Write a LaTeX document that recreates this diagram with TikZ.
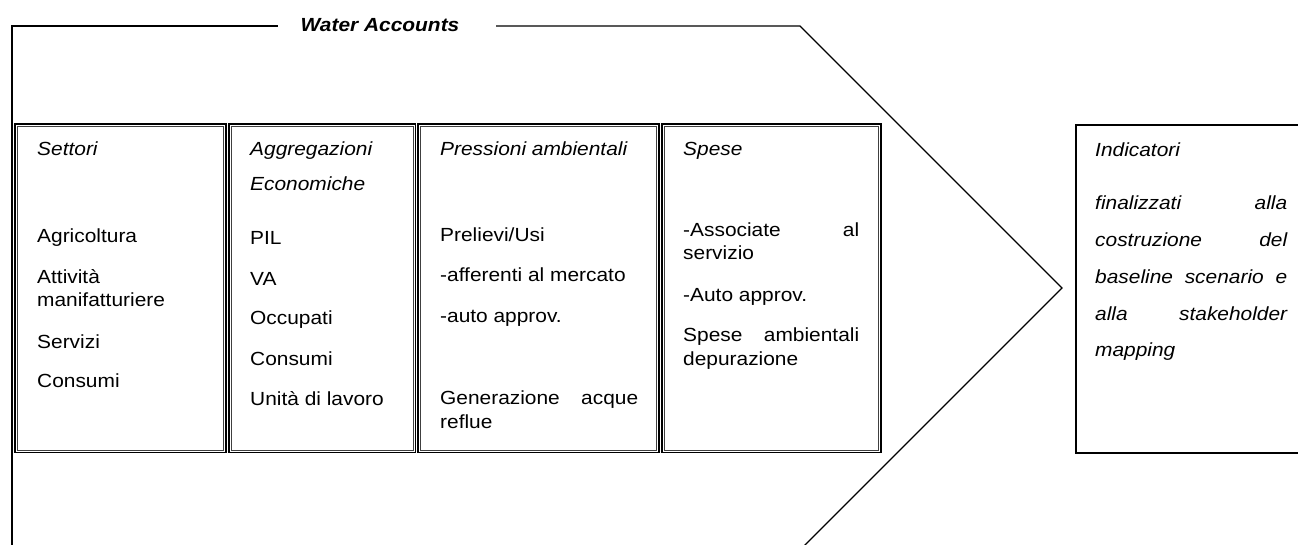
\documentclass[tikz,border=0pt]{standalone}
\usepackage{fontspec}
\setmainfont{Liberation Sans}[FakeStretch=1.1]
\begin{document}
\begin{tikzpicture}[x=1pt,y=-1pt,
  outline/.style={draw=black, line width=1.2pt},
  dout/.style={draw=black, line width=1.2pt},
  din/.style={draw=black!75, line width=0.8pt},
  ibox/.style={draw=black, line width=2pt},
  txt/.style={anchor=base west, inner sep=0pt, font=\fontsize{19}{23}\selectfont},
  itxt/.style={txt, font=\fontsize{19}{23}\selectfont\itshape},
  ttl/.style={anchor=base, inner sep=0pt, font=\fontsize{19}{23}\selectfont\bfseries\itshape}]
\useasboundingbox (0,0) rectangle (1298,544);
% outer chevron outline
\coordinate (ob) at (12,548);
\coordinate (otl) at (12,26);
\coordinate (ol1) at (278,26);
\coordinate (ol2) at (496,26);
\coordinate (otr) at (800,26);
\coordinate (otip) at (1062,288);
\coordinate (obr) at (802,548);
\draw[outline] (ob) -- (otl) -- (ol1);
\draw[outline] (ol2) -- (otr) -- (otip) -- (obr);
\node[ttl] (title) at (380,31) {Water Accounts};
% double-framed boxes
\foreach \l/\r in {15/226, 229/415.5, 418/659, 662/881}{
  \draw[dout] (\l,124) rectangle (\r,452.5);
  \draw[din] (\l+2.5,126.5) rectangle (\r-2.5,450);
}
\draw[ibox] (1075.5,124.5) rectangle (1310,452.5);
% box 1
\node[itxt] (s0) at (37,155) {Settori};
\node[txt] (s1) at (37,242) {Agricoltura};
\node[txt] (s2) at (37,283) {Attività};
\node[txt] (s3) at (37,306.5) {manifatturiere};
\node[txt] (s4) at (37,348) {Servizi};
\node[txt] (s5) at (37,387.5) {Consumi};
% box 2
\node[itxt] (a0) at (250,155) {Aggregazioni};
\node[itxt] (a1) at (250,190.5) {Economiche};
\node[txt] (a2) at (250,244) {PIL};
\node[txt] (a3) at (250,285) {VA};
\node[txt] (a4) at (250,324) {Occupati};
\node[txt] (a5) at (250,365.5) {Consumi};
\node[txt] (a6) at (250,405.5) {Unità di lavoro};
% box 3
\node[itxt] (p0) at (440,155) {Pressioni ambientali};
\node[txt] (p1) at (440,241.5) {Prelievi/Usi};
\node[txt] (p2) at (440,281.5) {-afferenti al mercato};
\node[txt] (p3) at (440,322.5) {-auto approv.};
\node[txt] (p4) at (440,404) {\makebox[198pt][s]{Generazione acque}};
\node[txt] (p5) at (440,428) {reflue};
% box 4
\node[itxt] (e0) at (683,155) {Spese};
\node[txt] (e1) at (683,236) {\makebox[176pt][s]{-Associate al}};
\node[txt] (e2) at (683,259.5) {servizio};
\node[txt] (e3) at (683,301) {-Auto approv.};
\node[txt] (e4) at (683,341) {\makebox[176pt][s]{Spese ambientali}};
\node[txt] (e5) at (683,365.5) {depurazione};
% box 5
\node[itxt] (i0) at (1095,156.5) {Indicatori};
\node[itxt] (i1) at (1095,209.5) {\makebox[192pt][s]{finalizzati alla}};
\node[itxt] (i2) at (1095,246.5) {\makebox[192pt][s]{costruzione del}};
\node[itxt] (i3) at (1095,283.5) {\makebox[192pt][s]{baseline scenario e}};
\node[itxt] (i4) at (1095,320) {\makebox[192pt][s]{alla stakeholder}};
\node[itxt] (i5) at (1095,356.5) {mapping};
\end{tikzpicture}
\end{document}
